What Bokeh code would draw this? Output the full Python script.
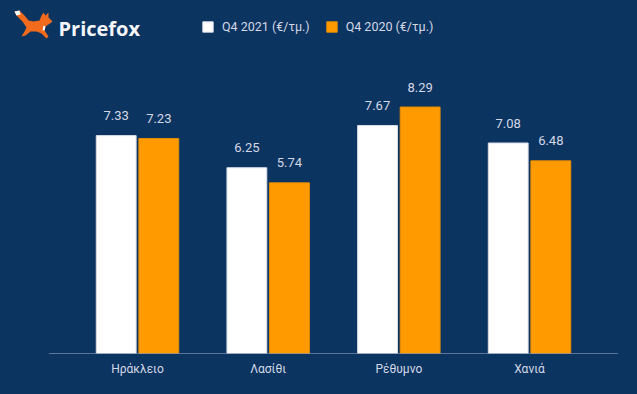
from bokeh.plotting import figure
from bokeh.models import ColumnDataSource, Legend, LegendItem, Range1d, FixedTicker
from bokeh.transform import dodge
from bokeh.core.properties import value
from bokeh.embed import file_html
from bokeh.resources import INLINE

regions = ["Ηράκλειο", "Λασίθι", "Ρέθυμνο", "Χανιά"]
q4_2021 = [7.33, 6.25, 7.67, 7.08]
q4_2020 = [7.23, 5.74, 8.29, 6.48]
series_names = ["Q4 2021 (€/τμ.)", "Q4 2020 (€/τμ.)"]
brand = "Pricefox"

BG = "#0c3461"
ORANGE = "#ff9a00"
WHITE = "#ffffff"
TXT = "#d3d8e6"
FONT = "Roboto"

# canvas / frame geometry
W_PX, H_PX = 637, 394
FRAME_BOT = 353.0
PX_PER_CAT = 130.67
PX_PER_UNIT = 29.73
FIRST_CENTER_PX = 137.0
X_START = 0.5 - FIRST_CENTER_PX / PX_PER_CAT
X_END = X_START + W_PX / PX_PER_CAT
Y_END = FRAME_BOT / PX_PER_UNIT
AXIS_PAD = 0.177


def X(px):
    return X_START + px / PX_PER_CAT


def Y(py):
    return (FRAME_BOT - py) / PX_PER_UNIT


centers = [i + 0.5 for i in range(len(regions))]
src = ColumnDataSource(dict(
    xc=centers,
    q21=q4_2021,
    q20=q4_2020,
    l21=[f"{v:.2f}" for v in q4_2021],
    l20=[f"{v:.2f}" for v in q4_2020],
))

p = figure(
    x_range=Range1d(X_START, X_END),
    y_range=Range1d(0, Y_END),
    width=W_PX, height=H_PX,
    output_backend="svg", toolbar_location=None,
    min_border_left=0, min_border_right=0, min_border_top=0,
    min_border_bottom=int(H_PX - FRAME_BOT),
    background_fill_color=BG, border_fill_color=BG, outline_line_color=None,
)

DX = 0.163
BW = 0.305
r1 = p.vbar(x=dodge("xc", -DX), top="q21", width=BW, source=src,
            fill_color=WHITE, line_color="#d8dbe4", line_width=1)
r2 = p.vbar(x=dodge("xc", DX), top="q20", width=BW, source=src,
            fill_color=ORANGE, line_color="#e88e00", line_width=1)

for col, lab, dx in (("q21", "l21", -DX), ("q20", "l20", DX)):
    p.text(x=dodge("xc", dx), y=col, text=lab, source=src,
           text_align="center", text_baseline="middle", y_offset=-20,
           text_font=value(FONT), text_font_size="13px", text_color=TXT)

# baseline (axis line of the original chart)
p.segment(x0=[-AXIS_PAD], x1=[len(regions) + AXIS_PAD], y0=[0], y1=[0],
          line_color="#aeb6cf", line_width=1)

# axes
p.yaxis.visible = False
p.xgrid.grid_line_color = None
p.ygrid.grid_line_color = None
ax = p.xaxis[0]
ax.ticker = FixedTicker(ticks=centers)
ax.major_label_overrides = {c: r for c, r in zip(centers, regions)}
ax.axis_line_color = None
ax.major_tick_line_color = None
ax.minor_tick_line_color = None
ax.major_tick_in = 0
ax.major_tick_out = 0
ax.major_label_standoff = 8
ax.major_label_text_color = TXT
ax.major_label_text_font = FONT
ax.major_label_text_font_size = "12px"

# legend
legend = Legend(
    items=[LegendItem(label=series_names[0], renderers=[r1]),
           LegendItem(label=series_names[1], renderers=[r2])],
    orientation="horizontal",
    location=(201, FRAME_BOT - 34),
    background_fill_alpha=0, border_line_color=None,
    padding=0, margin=0, spacing=15,
    glyph_width=13, glyph_height=13, label_standoff=8, label_height=13,
    label_text_color=TXT, label_text_font=FONT, label_text_font_size="12.5px",
)
p.add_layout(legend)

# logo (decoration)
fox = [(14, 11), (19, 10), (24, 15), (28, 20), (33, 21), (39, 20), (41, 15), (43, 12),
       (45, 15), (48, 12), (48, 17), (52, 21), (48, 24), (45, 26), (44, 30), (48, 36),
       (46, 38), (41, 33), (36, 31), (30, 31), (25, 35), (21, 36), (24, 31), (26, 27),
       (22, 21), (16, 15)]
tip = [(14, 11), (19, 10), (20, 14), (16, 15)]
chest = [(43, 25), (45, 26), (44, 30), (42, 30)]
p.patch(x=[X(a) for a, b in fox], y=[Y(b) for a, b in fox], fill_color="#f26a1b", line_color=None)
p.patch(x=[X(a) for a, b in tip], y=[Y(b) for a, b in tip], fill_color=WHITE, line_color=None)
p.patch(x=[X(a) for a, b in chest], y=[Y(b) for a, b in chest], fill_color=WHITE, line_color=None)
p.text(x=[X(58)], y=[Y(28)], text=[brand], text_align="left", text_baseline="middle",
       text_font=value("Open Sans"), text_font_style="bold", text_font_size="20px",
       text_color="#f4f6fa")

html = file_html(p, INLINE)
html = html.replace("</head>", f"<style>html, body {{ background: {BG}; }}</style></head>", 1)
open("out.html", "w").write(html)
